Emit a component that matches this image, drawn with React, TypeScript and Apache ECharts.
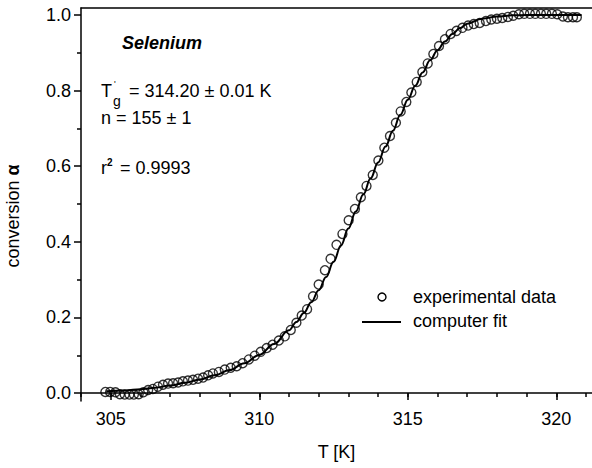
import React, { useEffect, useRef } from "react";
import * as echarts from "echarts";

// experimental data (temperature in K, conversion alpha)
const expT = [
  304.82, 304.98, 305.16, 305.31, 305.47, 305.63, 305.78, 305.94, 306.1, 306.26,
  306.42, 306.59, 306.76, 306.93, 307.1, 307.27, 307.43, 307.6, 307.77, 307.94,
  308.11, 308.28, 308.44, 308.64, 308.84, 309.04, 309.24, 309.44, 309.65, 309.85,
  310.05, 310.25, 310.45, 310.66, 310.86, 311.06, 311.25, 311.43, 311.61, 311.81,
  312.0, 312.21, 312.4, 312.6, 312.8, 313.01, 313.22, 313.42, 313.61, 313.82,
  314.01, 314.21, 314.4, 314.6, 314.76, 314.95, 315.12, 315.3, 315.49, 315.67,
  315.86, 316.05, 316.25, 316.44, 316.64, 316.84, 317.03, 317.22, 317.42, 317.63,
  317.81, 318.0, 318.18, 318.37, 318.55, 318.74, 318.92, 319.11, 319.29, 319.48,
  319.66, 319.85, 320.03, 320.22, 320.39, 320.56, 320.69,
];
const expAlpha = [
  0.003, 0.003, 0.002, -0.003, -0.004, -0.004, -0.004, -0.003, 0.002, 0.008,
  0.011, 0.017, 0.022, 0.025, 0.026, 0.028, 0.031, 0.033, 0.035, 0.038,
  0.041, 0.047, 0.052, 0.056, 0.062, 0.067, 0.071, 0.079, 0.089, 0.099,
  0.109, 0.119, 0.128, 0.139, 0.15, 0.167, 0.186, 0.205, 0.222, 0.256,
  0.287, 0.325, 0.355, 0.392, 0.421, 0.457, 0.487, 0.518, 0.548, 0.577,
  0.615, 0.649, 0.68, 0.715, 0.745, 0.77, 0.795, 0.823, 0.849, 0.872,
  0.897, 0.918, 0.936, 0.95, 0.958, 0.966, 0.972, 0.976, 0.979, 0.984,
  0.988, 0.99, 0.992, 0.995, 0.998, 1.002, 1.003, 1.003, 1.003, 1.003,
  1.003, 1.003, 1.002, 0.996, 0.994, 0.994, 0.994,
];

// computer fit curve
const fitT = [
  304.85, 305.5, 306.0, 306.5, 307.0, 307.5, 308.0, 308.5, 309.0, 309.5,
  310.0, 310.5, 311.0, 311.25, 311.5, 311.75, 312.0, 312.25, 312.5, 312.75,
  313.0, 313.25, 313.5, 313.75, 314.0, 314.25, 314.5, 314.75, 315.0, 315.25,
  315.5, 315.75, 316.0, 316.25, 316.5, 316.75, 317.0, 317.5, 318.0, 318.5,
  319.0, 320.0, 320.85,
];
const fitAlpha = [
  0.005, 0.007, 0.01, 0.014, 0.02, 0.027, 0.036, 0.047, 0.061, 0.079,
  0.101, 0.13, 0.166, 0.188, 0.212, 0.24, 0.272, 0.307, 0.347, 0.39,
  0.435, 0.48, 0.525, 0.568, 0.61, 0.652, 0.694, 0.736, 0.776, 0.813,
  0.848, 0.88, 0.907, 0.93, 0.95, 0.965, 0.977, 0.99, 0.996, 0.999,
  1.0, 1.0, 1.0,
];

const xMajorTicks = [305, 310, 315, 320];
const xMinorTicks = [304, 305, 306, 307, 308, 309, 310, 311, 312, 313, 314, 315, 316, 317, 318, 319, 320, 321];
const yMajorTicks = [0, 0.2, 0.4, 0.6, 0.8, 1.0];
const yMinorTicks = [0.1, 0.3, 0.5, 0.7, 0.9];

const FONT = "Liberation Sans, Arial, sans-serif";
const FS = 18;

export default function App() {
  const ref = useRef<HTMLDivElement>(null);
  useEffect(() => {
    if (!ref.current) return;
    const chart = echarts.init(ref.current, null, { renderer: "svg" });
    const xMin = 304;
    const xMax = 321.2;
    const yMin = -0.021;
    const yMax = 1.0185;
    const axisLine = { show: true, lineStyle: { color: "#000", width: 1.5 } };
    chart.setOption({
      animation: false,
      backgroundColor: "#fff",
      grid: { left: 81, right: 0, top: 8, bottom: 67, containLabel: false },
      xAxis: [
        {
          type: "value",
          min: xMin,
          max: xMax,
          position: "bottom",
          axisLine,
          axisTick: { show: true, customValues: xMajorTicks, length: 7, lineStyle: { color: "#000", width: 1.5 } },
          axisLabel: {
            customValues: xMajorTicks,
            color: "#000",
            fontFamily: FONT,
            fontSize: FS,
            margin: 9,
          },
          splitLine: { show: false },
          name: "T [K]",
          nameLocation: "middle",
          nameGap: 42,
          nameTextStyle: { color: "#000", fontFamily: FONT, fontSize: FS },
        },
        {
          type: "value",
          min: xMin,
          max: xMax,
          position: "bottom",
          axisLine: { show: false },
          axisTick: { show: true, customValues: xMinorTicks, length: 4, lineStyle: { color: "#000", width: 1.5 } },
          axisLabel: { show: false },
          splitLine: { show: false },
        },
        {
          type: "value",
          min: xMin,
          max: xMax,
          position: "top",
          axisLine,
          axisTick: { show: false },
          axisLabel: { show: false },
          splitLine: { show: false },
        },
      ],
      yAxis: [
        {
          type: "value",
          min: yMin,
          max: yMax,
          position: "left",
          axisLine,
          axisTick: { show: true, customValues: yMajorTicks, length: 7, lineStyle: { color: "#000", width: 1.5 } },
          axisLabel: {
            customValues: yMajorTicks,
            color: "#000",
            fontFamily: FONT,
            fontSize: FS,
            margin: 10,
            formatter: (v: number) => v.toFixed(1),
          },
          splitLine: { show: false },
        },
        {
          type: "value",
          min: yMin,
          max: yMax,
          position: "left",
          axisLine: { show: false },
          axisTick: { show: true, customValues: yMinorTicks, length: 4, lineStyle: { color: "#000", width: 1.5 } },
          axisLabel: { show: false },
          splitLine: { show: false },
        },
      ],
      series: [
        {
          name: "computer fit",
          type: "line",
          xAxisIndex: 0,
          yAxisIndex: 0,
          data: fitT.map((t, i) => [t, fitAlpha[i]]),
          smooth: 0.4,
          smoothMonotone: "x",
          showSymbol: false,
          symbol: "none",
          lineStyle: { color: "#000", width: 2 },
          z: 2,
        },
        {
          name: "experimental data",
          type: "scatter",
          xAxisIndex: 0,
          yAxisIndex: 0,
          data: expT.map((t, i) => [t, expAlpha[i]]),
          symbol: "circle",
          symbolSize: 9,
          itemStyle: { color: "rgba(255,255,255,0)", borderColor: "#000", borderWidth: 1.4 },
          z: 3,
        },
      ],
      graphic: [
        {
          type: "text",
          x: 13,
          y: 216,
          rotation: Math.PI / 2,
          style: {
            text: "conversion {a|α}",
            fill: "#000",
            font: `${FS}px ${FONT}`,
            align: "center",
            verticalAlign: "middle",
            rich: { a: { fontWeight: "bold", fontSize: FS, fontFamily: FONT } },
          },
        },
        {
          type: "text",
          x: 122,
          y: 43,
          style: { text: "Selenium", fill: "#000", font: `italic bold ${FS}px ${FONT}`, align: "left", verticalAlign: "middle" },
        },
        {
          type: "text",
          x: 101,
          y: 91,
          style: { text: "T", fill: "#000", font: `${FS}px ${FONT}`, align: "left", verticalAlign: "middle" },
        },
        {
          type: "text",
          x: 114,
          y: 84,
          style: { text: "'", fill: "#000", font: `9px ${FONT}`, align: "left", verticalAlign: "middle" },
        },
        {
          type: "text",
          x: 113,
          y: 101,
          style: { text: "g", fill: "#000", font: `14px ${FONT}`, align: "left", verticalAlign: "middle" },
        },
        {
          type: "text",
          x: 129,
          y: 91,
          style: { text: "= 314.20 ± 0.01 K", fill: "#000", font: `${FS}px ${FONT}`, align: "left", verticalAlign: "middle" },
        },
        {
          type: "text",
          x: 101,
          y: 118,
          style: { text: "n = 155 ± 1", fill: "#000", font: `${FS}px ${FONT}`, align: "left", verticalAlign: "middle" },
        },
        {
          type: "text",
          x: 101,
          y: 168,
          style: { text: "r", fill: "#000", font: `${FS}px ${FONT}`, align: "left", verticalAlign: "middle" },
        },
        {
          type: "text",
          x: 107,
          y: 162,
          style: { text: "2", fill: "#000", font: `bold 10px ${FONT}`, align: "left", verticalAlign: "middle" },
        },
        {
          type: "text",
          x: 120,
          y: 168,
          style: { text: "= 0.9993", fill: "#000", font: `${FS}px ${FONT}`, align: "left", verticalAlign: "middle" },
        },
        {
          type: "circle",
          shape: { cx: 382, cy: 297, r: 4 },
          style: { fill: "rgba(255,255,255,0)", stroke: "#000", lineWidth: 1.4 },
        },
        {
          type: "text",
          x: 413,
          y: 297,
          style: { text: "experimental data", fill: "#000", font: `${FS}px ${FONT}`, align: "left", verticalAlign: "middle" },
        },
        {
          type: "line",
          shape: { x1: 362, y1: 322, x2: 401, y2: 322 },
          style: { stroke: "#000", lineWidth: 2 },
        },
        {
          type: "text",
          x: 413,
          y: 321,
          style: { text: "computer fit", fill: "#000", font: `${FS}px ${FONT}`, align: "left", verticalAlign: "middle" },
        },
      ],
    });
    return () => chart.dispose();
  }, []);
  return (
    <div
      ref={ref}
      style={{ position: "fixed", left: 0, top: 0, width: 592, height: 468, background: "#fff" }}
    />
  );
}
